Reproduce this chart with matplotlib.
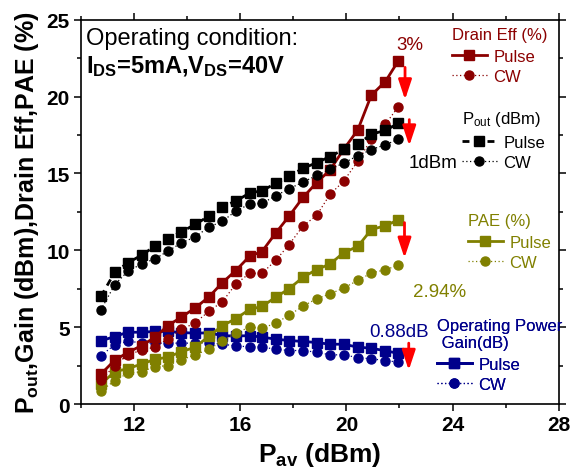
import matplotlib
matplotlib.use("Agg")
import matplotlib.pyplot as plt
from matplotlib.ticker import MultipleLocator

plt.rcParams['font.family'] = ['Liberation Sans', 'DejaVu Sans']
plt.rcParams['mathtext.default'] = 'regular'

# ---------------- data ----------------
p_av = [10.75, 11.27, 11.76, 12.28, 12.78, 13.27, 13.78, 14.30, 14.81, 15.33, 15.83, 16.35,
        16.82, 17.34, 17.84, 18.37, 18.88, 19.38, 19.90, 20.43, 20.94, 21.47, 21.96]

pout_pulse = [7.0, 8.57, 9.18, 9.68, 10.26, 10.74, 11.2, 11.68, 12.22, 12.83, 13.2, 13.72,
              13.88, 14.35, 14.83, 15.33, 15.7, 16.09, 16.57, 16.9, 17.55, 17.8, 18.26]
pout_cw = [6.13, 7.76, 8.63, 9.11, 9.44, 9.94, 10.48, 10.87, 11.5, 11.89, 12.55, 13.0,
           13.05, 13.55, 14.0, 14.44, 14.87, 15.26, 15.68, 16.15, 16.55, 16.87, 17.22]

de_pulse = [1.95, 2.85, 3.35, 3.8, 4.33, 5.1, 5.65, 6.25, 6.95, 7.9, 8.68, 9.61,
            9.92, 11.13, 12.22, 13.45, 14.4, 15.22, 16.57, 17.83, 20.09, 20.98, 22.33]
de_cw = [1.55, 2.5, 3.2, 3.5, 3.7, 4.25, 4.85, 5.28, 6.02, 6.66, 7.8, 8.5,
         8.5, 9.35, 10.37, 11.59, 12.27, 13.63, 14.5, 15.8, 17.22, 18.2, 19.35]

pae_pulse = [1.3, 2.1, 2.3, 2.6, 2.9, 3.05, 3.4, 3.7, 4.4, 5.1, 5.55, 6.15,
             6.35, 6.95, 7.5, 8.25, 8.75, 9.1, 9.85, 10.25, 11.35, 11.6, 11.98]
pae_cw = [0.85, 1.52, 2.0, 2.1, 2.43, 2.5, 2.87, 3.2, 3.55, 4.1, 4.61, 5.0,
          4.93, 5.26, 5.78, 6.37, 6.85, 7.16, 7.55, 8.04, 8.52, 8.74, 9.02]

gain_pulse = [4.11, 4.39, 4.67, 4.67, 4.72, 4.72, 4.65, 4.61, 4.63, 4.45, 4.42, 4.45,
              4.35, 4.22, 4.13, 4.07, 4.0, 3.89, 3.89, 3.7, 3.63, 3.46, 3.3]
gain_cw = [3.15, 3.85, 4.07, 4.0, 3.96, 3.96, 3.96, 3.96, 4.0, 3.89, 3.78, 3.72,
           3.7, 3.57, 3.48, 3.48, 3.37, 3.2, 3.2, 3.02, 2.94, 2.83, 2.72]

# arrows: (x, y_start, y_end)
arrows = [(22.21, 21.9, 19.8), (22.37, 18.5, 16.8), (22.19, 11.8, 9.5), (22.35, 3.96, 2.2)]
# annotations: (text, x, y, colour)
notes = [("3%", 22.4, 23.4, '#8B0000'), ("1dBm", 23.25, 15.7, 'black'),
         ("2.94%", 23.5, 7.35, '#808000'), ("0.88dB", 21.98, 4.75, '#00008B')]

xticks = [12, 16, 20, 24, 28]
yticks = [0, 5, 10, 15, 20, 25]

C_DE = '#8B0000'
C_PAE = '#808000'
C_G = '#00008B'
C_P = 'black'

fig = plt.figure(figsize=(5.73, 4.77), dpi=100)
ax = fig.add_axes([0.1414, 0.1509, 0.975 - 0.1414, 0.9566 - 0.1509])

ms = 6.5
def plot_pair(yp, yc, col, pulse_ls):
    lp, = ax.plot(p_av, yp, color=col, lw=2, ls=pulse_ls, marker='s', ms=ms, mec=col, mfc=col)
    lc, = ax.plot(p_av, yc, color=col, lw=0.9, ls=(0, (1, 2)), marker='o', ms=ms, mec=col, mfc=col)
    return lp, lc

lp_g, lc_g = plot_pair(gain_pulse, gain_cw, C_G, '-')
lp_a, lc_a = plot_pair(pae_pulse, pae_cw, C_PAE, '-')
lp_d, lc_d = plot_pair(de_pulse, de_cw, C_DE, '-')
lp_p, lc_p = plot_pair(pout_pulse, pout_cw, C_P, (0, (2.5, 2)))

for (x, y0, y1) in arrows:
    ax.annotate('', xy=(x, y1), xytext=(x, y0),
                arrowprops=dict(arrowstyle='-|>,head_width=0.4,head_length=1.2',
                                color='red', lw=2, mutation_scale=10,
                                shrinkA=0, shrinkB=0))

for (t, x, y, c) in notes:
    ax.text(x, y, t, color=c, fontsize=13.5, ha='center', va='center')

ax.text(0.011, 0.937, "Operating condition:", transform=ax.transAxes, fontsize=17,
        ha='left', va='baseline')
ax.text(0.011, 0.863, "I$_{DS}$=5mA,V$_{DS}$=40V", transform=ax.transAxes, fontsize=17,
        fontweight='bold', ha='left', va='baseline')

def add_leg(handles, title, col, x, y):
    leg = ax.legend(handles, ['Pulse', 'CW'], title=title, loc='upper left',
                    bbox_to_anchor=(x, y), frameon=False, fontsize=12, title_fontsize=12,
                    handlelength=2.1, handletextpad=0.4, labelspacing=0.3,
                    borderpad=0, borderaxespad=0, alignment='left', labelcolor=col)
    leg.get_title().set_color(col)
    leg._legend_box.sep = 5
    ax.add_artist(leg)
    return leg

add_leg([lp_d, lc_d], 'Drain Eff (%)', C_DE, 0.776, 0.98)
add_leg([lp_p, lc_p], 'P$_{out}$ (dBm)', C_P, 0.797, 0.768)
add_leg([lp_a, lc_a], 'PAE (%)', C_PAE, 0.810, 0.497)
add_leg([lp_g, lc_g], 'Operating Power\n Gain(dB)', C_G, 0.745, 0.224)

ax.set_xlim(10, 28)
ax.set_ylim(0, 25)
ax.set_xticks(xticks)
ax.set_yticks(yticks)
ax.xaxis.set_minor_locator(MultipleLocator(2))
ax.yaxis.set_minor_locator(MultipleLocator(2.5))
ax.tick_params(which='both', direction='out', top=True, right=True, width=1.1,
               labelsize=15, pad=3)
ax.tick_params(which='major', length=5)
ax.tick_params(which='minor', length=3)
for lab in ax.get_xticklabels() + ax.get_yticklabels():
    lab.set_fontweight('bold')
for s in ax.spines.values():
    s.set_linewidth(1.2)

ax.set_xlabel("P$_{av}$ (dBm)", fontsize=19, fontweight='bold', labelpad=4)
ax.set_ylabel("P$_{out}$,Gain (dBm),Drain Eff,PAE (%)", fontsize=18, fontweight='bold',
              labelpad=4)

fig.savefig("out.png", dpi=100)
